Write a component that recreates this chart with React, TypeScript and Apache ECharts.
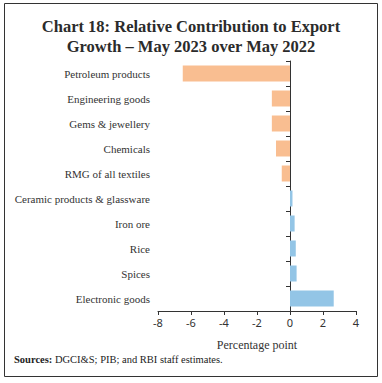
import React, { useEffect, useRef } from "react";
import * as echarts from "echarts";

const categories = [
  "Petroleum products",
  "Engineering goods",
  "Gems & jewellery",
  "Chemicals",
  "RMG of all textiles",
  "Ceramic products & glassware",
  "Iron ore",
  "Rice",
  "Spices",
  "Electronic goods",
];
const values = [-6.5, -1.1, -1.1, -0.85, -0.5, 0.15, 0.28, 0.35, 0.4, 2.65];
const xTicks = { min: -8, max: 4, interval: 2 };

const NEG = "#F9BE91";
const POS = "#93C5E6";

export default function App() {
  const ref = useRef<HTMLDivElement>(null);
  useEffect(() => {
    document.body.style.margin = "0";
    const chart = echarts.init(ref.current!, null, { renderer: "svg" });
    const cats = [...categories].reverse();
    const vals = [...values].reverse();
    chart.setOption({
      animation: false,
      backgroundColor: "#fff",
      title: {
        text: "Chart 18: Relative Contribution to Export\nGrowth – May 2023 over May 2022",
        left: "center",
        top: 11,
        textStyle: {
          fontFamily: "Liberation Serif",
          fontWeight: "bold",
          fontSize: 16.5,
          lineHeight: 20,
          color: "#2b2b2b",
        },
      },
      graphic: [
        {
          type: "rect",
          shape: { x: 4.5, y: 3.5, width: 373, height: 373 },
          style: { fill: "none", stroke: "#333", lineWidth: 1 },
          silent: true,
        },
        {
          type: "text",
          left: 14,
          top: 354,
          style: {
            text: "{b|Sources:} DGCI&S; PIB; and RBI staff estimates.",
            rich: {
              b: { fontFamily: "Liberation Serif", fontWeight: "bold", fontSize: 10.5, fill: "#222" },
            },
            fontFamily: "Liberation Serif",
            fontSize: 10.5,
            fill: "#222",
          },
        },
      ],
      grid: { left: 158, right: 26, top: 61, bottom: 72 },
      xAxis: {
        type: "value",
        min: xTicks.min,
        max: xTicks.max,
        interval: xTicks.interval,
        name: "Percentage point",
        nameLocation: "middle",
        nameGap: 28,
        nameTextStyle: { fontFamily: "Liberation Serif", fontSize: 12, color: "#333" },
        axisLine: { show: true, lineStyle: { color: "#333", width: 1 } },
        axisTick: { show: true, length: 4, lineStyle: { color: "#333" } },
        axisLabel: { fontFamily: "Noto Sans", fontSize: 11, color: "#333", margin: 6 },
        splitLine: { show: false },
      },
      yAxis: [
        {
          type: "category",
          data: cats,
          position: "left",
          axisLine: { show: false, onZero: false },
          axisTick: { show: false },
          axisLabel: { fontFamily: "Liberation Serif", fontSize: 11, color: "#333", margin: 8 },
        },
        {
          type: "category",
          data: cats,
          position: "left",
          axisLine: { show: true, onZero: true, lineStyle: { color: "#333", width: 1 } },
          axisTick: { show: true, length: 4, lineStyle: { color: "#333" } },
          axisLabel: { show: false },
        },
      ],
      series: [
        {
          type: "bar",
          yAxisIndex: 0,
          data: vals.map((v) => ({ value: v, itemStyle: { color: v < 0 ? NEG : POS } })),
          barWidth: "64%",
        },
      ],
    });
    return () => chart.dispose();
  }, []);
  return <div ref={ref} style={{ width: 382, height: 383 }} />;
}
